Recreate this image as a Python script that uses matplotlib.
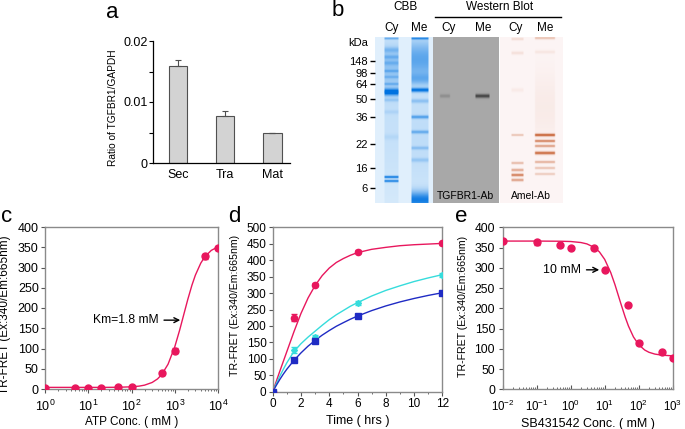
import numpy as np
import matplotlib
matplotlib.use("Agg")
import matplotlib.pyplot as plt
from matplotlib.lines import Line2D
from matplotlib.ticker import MultipleLocator, LogLocator, NullFormatter, FixedLocator

plt.rcParams['font.family'] = ['Liberation Sans', 'DejaVu Sans']
plt.rcParams['mathtext.fontset'] = 'custom'
plt.rcParams['mathtext.rm'] = 'Liberation Sans'
plt.rcParams['mathtext.it'] = 'Liberation Sans:italic'
plt.rcParams['mathtext.bf'] = 'Liberation Sans:bold'

# ---------------- data ----------------
# panel a
tissue = ['Sec', 'Tra', 'Mat']
ratio = [0.0159, 0.0077, 0.0049]
ratio_err = [0.0010, 0.0008, 0.0001]

# panel b (gel illustration)
kda_labels = ['148', '98', '64', '50', '36', '22', '16', '6']
kda_rows = [23.7, 35.7, 47, 62, 79.7, 107.3, 131.3, 151.3]
lane_names = ['Cy', 'Me', 'Cy', 'Me', 'Cy', 'Me']
cbb_cy = [(1.5, 0.4, 0.8), (30, 0.28, 18), (13, 0.25, 2), (20, 0.25, 1.5), (26, 0.2, 1.5),
          (34, 0.25, 1.0), (40, 0.2, 1.0), (47, 0.28, 1.0), (55, 1.0, 2.3), (63, 0.18, 1.2),
          (75, 0.1, 1.5), (100, 0.08, 2), (140, 0.8, 0.9), (144, 0.75, 0.9), (90, 0.12, 60)]
cbb_me = [(1.5, 0.6, 0.8), (22, 0.55, 14), (42, 0.3, 4), (53, 0.85, 1.5), (64, 0.25, 1.5),
          (80, 0.5, 1.2), (95, 0.4, 1.2), (111, 0.25, 1.2), (123, 0.2, 1.5), (163, 0.85, 6),
          (100, 0.15, 50)]
wb_cy = [(59, 0.2, 1.3)]
wb_me = [(59, 0.75, 1.4)]
amel_cy = [(2, 0.15, 1), (16, 0.12, 1.2), (53, 0.06, 1.5), (98, 0.3, 0.8), (126, 0.35, 0.9),
           (133, 0.45, 1.0), (138, 0.7, 1.0), (143, 0.5, 1.0)]
amel_me = [(1, 0.3, 1.0), (15, 0.08, 1.2), (98, 0.85, 1.0), (104, 0.65, 0.9),
           (109, 0.5, 0.9), (116, 0.8, 1.1), (125, 0.4, 0.9), (131, 0.3, 0.9),
           (137, 0.25, 0.9), (70, 0.06, 25)]

# panel c
atp_conc = [1, 5, 10, 20, 50, 100, 500, 1000, 5000, 10000]
atp_signal = [2, 2, 2, 3, 5, 5, 39, 95, 328, 348]
atp_err = [2, 2, 2, 2, 3, 3, 4, 6, 6, 4]
atp_fit_x = [1, 2, 5, 10, 20, 50, 100, 150, 200, 300, 400, 500, 700, 1000, 1300, 1600,
             2000, 2500, 3000, 4000, 5000, 7000, 10000]
atp_fit_y = [4, 4, 4, 4, 4, 4.3, 5.4, 7.1, 9.5, 16.1, 24.9, 35.7, 61.2, 104, 145.6, 182,
             221, 256.6, 281.2, 310.9, 327, 342.3, 351.1]

# panel d
time_h = [0, 1.5, 3, 6, 12]
red_sig = [0, 225, 325, 426, 451]
red_err = [0, 10, 5, 4, 4]
cyan_sig = [0, 127, 167, 271, 355]
cyan_err = [0, 10, 6, 6, 5]
blue_sig = [0, 97, 154, 231, 301]
blue_err = [0, 6, 6, 4, 3]
fit_time = [0, 0.25, 0.5, 0.75, 1, 1.5, 2, 2.5, 3, 3.5, 4, 4.5, 5, 5.5, 6, 7, 8, 9, 10, 11, 12]
red_fit = [0, 31, 62, 92, 122, 182, 238, 285, 323, 353, 376, 393, 405, 415, 423, 433, 439,
           444, 447, 449, 451]
cyan_fit = [0, 24, 47, 68, 88, 122, 146, 166, 184, 202, 219, 234, 247, 260, 271, 291, 308,
            322, 335, 346, 356]
blue_fit = [0, 19, 37, 53.5, 68.5, 95, 118, 138.5, 156, 172, 186, 199, 210, 220.6, 230,
            246.6, 260.8, 273, 283.5, 292.8, 301]

# panel e
sb_conc = [0.01, 0.1, 0.5, 1, 5, 10, 50, 100, 500, 1000]
sb_signal = [366, 363, 356, 349, 348, 295, 207, 114, 91, 78]
sb_err = [3, 6, 4, 3, 3, 3, 3, 5, 4, 3]
sb_fit_x = [0.01, 0.1, 0.5, 1, 2, 3, 5, 7, 10, 15, 20, 30, 40, 50, 70, 100, 150, 200, 300,
            500, 1000]
sb_fit_y = [366, 366, 365.6, 364.9, 362.4, 359, 350.2, 339.2, 320.7, 288.5, 258.6, 211,
            178.4, 156.1, 129.4, 110.2, 97, 91.4, 86.9, 84.1, 82.7]

# ---------------- figure ----------------
W, H = 685, 429
fig = plt.figure(figsize=(W / 100, H / 100), dpi=100)


def box(x0, y0, x1, y1):
    return [x0 / W, 1 - y1 / H, (x1 - x0) / W, (y1 - y0) / H]


def px(x, y):
    return x / W, 1 - y / H


RED = '#e8175d'
CYAN = '#36dcdc'
BLUE = '#1f2bc4'
SPINE = '#8a8a8a'

# panel labels
for lab, (x, y) in zip('abcde', [(112, 12), (338, 10), (7, 216), (234, 216), (461, 216)]):
    fig.text(*px(x, y), lab, fontsize=16, ha='center', va='center')

# ---- panel a ----
axa = fig.add_axes(box(153, 41, 290, 163))
xa = np.arange(len(tissue))
axa.bar(xa, ratio, width=0.4, color='#d3d3d3', edgecolor='#505050', linewidth=0.8, zorder=2)
axa.errorbar(xa, ratio, yerr=[np.zeros(len(ratio)), ratio_err], fmt='none', ecolor='#505050',
             elinewidth=0.8, capsize=2.5, capthick=0.8, zorder=3)
axa.set_xlim(-0.53, 2.38)
axa.set_ylim(0, 0.02)
axa.set_yticks([0, 0.01, 0.02], ['0', '0.01', '0.02'])
axa.yaxis.set_minor_locator(FixedLocator([0.005, 0.015]))
axa.set_xticks(xa, tissue)
axa.tick_params(axis='x', length=0, pad=4, labelsize=9)
axa.tick_params(axis='y', which='both', direction='out', length=3, width=0.8, labelsize=9, pad=1)
for s in ['top', 'right']:
    axa.spines[s].set_visible(False)
for s in ['left', 'bottom']:
    axa.spines[s].set_linewidth(0.9)
axa.set_ylabel('Ratio of TGFBR1/GAPDH', fontsize=7.3)
axa.yaxis.set_label_coords(-0.255, 0.45)

# ---- panel b (gel) ----
GH, GW = 166, 188
rows = np.arange(GH)[:, None] + 0.5
cols = np.arange(GW)[None, :] + 0.5
img = np.ones((GH, GW, 3))


def lane_prof(center, width):
    return np.clip((width / 2 - np.abs(cols - center)) / 1.5 + 0.5, 0, 1)


def band_prof(bands):
    v = np.zeros((GH, 1))
    for r, a, s in bands:
        v = v + a * np.exp(-0.5 * ((rows - r) / s) ** 2)
    return v


def paint(c0, c1, bg, fg, lanes):
    inten = np.zeros((GH, GW))
    for center, width, bands in lanes:
        inten = inten + lane_prof(center, width) * band_prof(bands)
    inten = np.clip(inten, 0, 1)[:, c0:c1, None]
    bg = np.array(bg)[None, None, :]
    fg = np.array(fg)[None, None, :]
    img[:, c0:c1, :] = bg * (1 - inten) + fg * inten


paint(0, 58, (0.88, 0.94, 0.99), (0.0, 0.45, 0.88),
      [(16.5, 14, cbb_cy), (45, 17, cbb_me)])
paint(58, 124, (0.66, 0.66, 0.66), (0.15, 0.15, 0.15),
      [(70, 10, wb_cy), (107.5, 14, wb_me)])
paint(125, 188, (0.99, 0.96, 0.96), (0.76, 0.32, 0.12),
      [(142.5, 12, amel_cy), (170, 20, amel_me)])

axg = fig.add_axes(box(375, 37, 563, 203))
axg.imshow(img, extent=(0, GW, GH, 0), aspect='auto', interpolation='bilinear')
axg.set_xlim(0, GW)
axg.set_ylim(GH, 0)
axg.set_xticks([])
axg.set_yticks(kda_rows, kda_labels)
axg.tick_params(axis='y', direction='out', length=3.5, width=1, pad=1.5, labelsize=8)
for s in axg.spines.values():
    s.set_visible(False)
fig.text(*px(358, 43), 'kDa', fontsize=8, ha='center', va='center')
fig.text(*px(405, 7), 'CBB', fontsize=8.5, ha='center', va='center')
fig.text(*px(500, 7), 'Western Blot', fontsize=8.5, ha='center', va='center')
fig.add_artist(Line2D([435 / W, 561 / W], [1 - 17 / H, 1 - 17 / H], color='black', lw=1))
for name, x in zip(lane_names, [392, 419, 449, 483, 516, 545]):
    fig.text(*px(x, 28), name, fontsize=8.5, ha='center', va='center')
fig.text(*px(465, 196), 'TGFBR1-Ab', fontsize=7.5, ha='center', va='center')
fig.text(*px(531, 196), 'Amel-Ab', fontsize=7.5, ha='center', va='center')


def style_box(ax):
    for s in ax.spines.values():
        s.set_color(SPINE)
        s.set_linewidth(1)
    ax.tick_params(which='both', direction='out', color='#555555')
    ax.tick_params(which='major', length=3, width=0.8, pad=1.5)
    ax.tick_params(which='minor', length=1.6, width=0.6)


# ---- panel c ----
axc = fig.add_axes(box(45, 227, 218, 389))
axc.plot(atp_fit_x, atp_fit_y, color=RED, lw=1, zorder=2)
axc.errorbar(atp_conc, atp_signal, yerr=atp_err, fmt='o', ms=5, color=RED, ecolor=RED,
             elinewidth=0.8, capsize=2, zorder=3)
axc.set_xscale('log')
axc.set_xlim(1, 10000)
axc.set_ylim(0, 400)
axc.yaxis.set_major_locator(MultipleLocator(50))
axc.xaxis.set_major_locator(LogLocator(base=10, numticks=10))
axc.xaxis.set_minor_locator(LogLocator(base=10, subs=np.arange(2, 10), numticks=20))
axc.xaxis.set_minor_formatter(NullFormatter())
style_box(axc)
axc.tick_params(labelsize=9)
axc.tick_params(axis='x', which='major', pad=4)
axc.set_xlabel('ATP Conc. ( mM )', fontsize=8.5)
axc.xaxis.set_label_coords(0.5, -0.165)
axc.set_ylabel('TR-FRET (Ex:340/Em:665nm)', fontsize=8.5)
axc.yaxis.set_label_coords(-0.197, 0.457)
axc.annotate('Km=1.8 mM', xy=(1445, 170), xytext=(420, 170), ha='right', va='center',
             fontsize=8.7,
             arrowprops=dict(arrowstyle='->', color='black', lw=1, relpos=(1, 0.5),
                             shrinkA=2, shrinkB=1))

# ---- panel d ----
axd = fig.add_axes(box(272.7, 227.3, 442.3, 391.7))
axd.plot(fit_time, red_fit, color=RED, lw=1, zorder=2)
axd.plot(fit_time, cyan_fit, color=CYAN, lw=1, zorder=2)
axd.plot(fit_time, blue_fit, color=BLUE, lw=1, zorder=2)
axd.errorbar(time_h, red_sig, yerr=red_err, fmt='o', ms=4.5, color=RED, elinewidth=0.8,
             capsize=2, zorder=3)
axd.errorbar(time_h, cyan_sig, yerr=cyan_err, fmt='D', ms=3, color=CYAN, elinewidth=0.8,
             capsize=2, zorder=3)
axd.errorbar(time_h, blue_sig, yerr=blue_err, fmt='s', ms=4, color=BLUE, elinewidth=0.8,
             capsize=2, zorder=3)
axd.set_xlim(0, 12)
axd.set_ylim(0, 500)
axd.xaxis.set_major_locator(MultipleLocator(2))
axd.xaxis.set_minor_locator(MultipleLocator(1))
axd.yaxis.set_major_locator(MultipleLocator(50))
style_box(axd)
axd.tick_params(labelsize=8.5)
axd.set_xlabel('Time ( hrs )', fontsize=9)
axd.xaxis.set_label_coords(0.5, -0.14)
axd.set_ylabel('TR-FRET (Ex:340/Em:665nm)', fontsize=7.6)
axd.yaxis.set_label_coords(-0.193, 0.527)

# ---- panel e ----
axe = fig.add_axes(box(502.7, 227.3, 672.7, 389.3))
axe.plot(sb_fit_x, sb_fit_y, color=RED, lw=1, zorder=2)
axe.errorbar(sb_conc, sb_signal, yerr=sb_err, fmt='o', ms=5, color=RED, elinewidth=0.8,
             capsize=2, zorder=3)
axe.set_xscale('log')
axe.set_xlim(0.01, 1000)
axe.set_ylim(0, 400)
axe.yaxis.set_major_locator(MultipleLocator(50))
axe.xaxis.set_major_locator(LogLocator(base=10, numticks=10))
axe.xaxis.set_minor_locator(LogLocator(base=10, subs=np.arange(2, 10), numticks=20))
axe.xaxis.set_minor_formatter(NullFormatter())
style_box(axe)
axe.tick_params(axis='y', labelsize=8.7, pad=2.5)
axe.tick_params(axis='x', which='both', direction='in', pad=7, labelsize=8.3)
axe.set_xlabel('SB431542 Conc. ( mM )', fontsize=9)
axe.xaxis.set_label_coords(0.5, -0.175)
axe.set_ylabel('TR-FRET (Ex:340/Em:665nm)', fontsize=7.6)
axe.yaxis.set_label_coords(-0.204, 0.514)
axe.annotate('10 mM', xy=(7.6, 295), xytext=(2.0, 295), ha='right', va='center',
             fontsize=8.9,
             arrowprops=dict(arrowstyle='->', color='black', lw=1, relpos=(1, 0.5),
                             shrinkA=2, shrinkB=1))

fig.savefig('out.png', dpi=100)
